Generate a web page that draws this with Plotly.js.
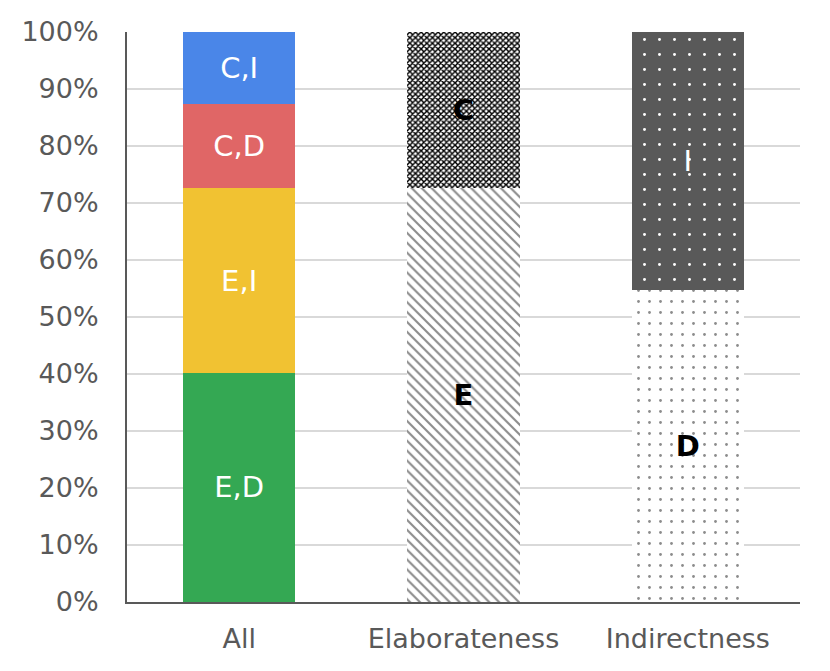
<!DOCTYPE html>
<html>
<head>
<meta charset="utf-8">
<script src="https://cdn.plot.ly/plotly-3.0.1.min.js"></script>
<style>
  html, body { margin: 0; padding: 0; background: #fff; }
  #chart { width: 830px; height: 671px; }
</style>
</head>
<body>
<div id="chart"></div>
<script>
// ── data (percent of each bar) ──
const CATEGORIES = ['All', 'Elaborateness', 'Indirectness'];
const Y_TICKS    = [0, 10, 20, 30, 40, 50, 60, 70, 80, 90, 100];

// "All" bar, bottom → top
const ALL_ED = [40.2, null, null];
const ALL_EI = [32.4, null, null];
const ALL_CD = [14.8, null, null];
const ALL_CI = [12.6, null, null];

// "Elaborateness" bar
const ELAB_E = [null, 72.6, null];
const ELAB_C = [null, 27.4, null];

// "Indirectness" bar
const INDIR_D = [null, null, 54.7];
const INDIR_I = [null, null, 45.3];

const FONT = '"DejaVu Sans", sans-serif';

function bar(name, values, style) {
  return {
    type: 'bar',
    name,
    x: CATEGORIES,
    y: values,
    width: 0.5,
    text: values.map(v => (v == null ? '' : name)),
    textposition: 'inside',
    insidetextanchor: 'middle',
    textangle: 0,
    insidetextfont: { family: FONT, size: 29, color: style.textColor, weight: style.weight || 'normal' },
    marker: {
      color: style.color,
      line: { width: 0 },
      pattern: style.pattern || { shape: '' },
    },
    hoverinfo: 'skip',
  };
}

const traces = [
  bar('E,D', ALL_ED, { color: '#34a853', textColor: '#ffffff' }),
  bar('E,I', ALL_EI, { color: '#f1c232', textColor: '#ffffff' }),
  bar('C,D', ALL_CD, { color: '#e06666', textColor: '#ffffff' }),
  bar('C,I', ALL_CI, { color: '#4a86e8', textColor: '#ffffff' }),

  // diagonal hatch → E
  bar('E', ELAB_E, {
    color: '#ffffff', textColor: '#000000', weight: 'bold',
    pattern: { shape: '\\', bgcolor: '#ffffff', fgcolor: '#8c8c8c', size: 7, solidity: 0.3, fillmode: 'replace' },
  }),
  // fine checker → C
  bar('C', ELAB_C, {
    color: '#ffffff', textColor: '#000000', weight: 'bold',
    pattern: { shape: 'x', bgcolor: '#ffffff', fgcolor: '#000000', size: 4, solidity: 0.6, fillmode: 'replace' },
  }),

  // light dots → D
  bar('D', INDIR_D, {
    color: '#ffffff', textColor: '#000000', weight: 'bold',
    pattern: { shape: '.', bgcolor: '#ffffff', fgcolor: '#8c8c8c', size: 11, solidity: 0.05, fillmode: 'replace' },
  }),
  // dark with white dots → I
  bar('I', INDIR_I, {
    color: '#595959', textColor: '#ffffff',
    pattern: { shape: '.', bgcolor: '#595959', fgcolor: '#ffffff', size: 15, solidity: 0.03, fillmode: 'replace' },
  }),
];

const layout = {
  width: 830,
  height: 671,
  margin: { l: 127, r: 30, t: 32, b: 69 },
  paper_bgcolor: '#ffffff',
  plot_bgcolor: '#ffffff',
  barmode: 'stack',
  showlegend: false,
  font: { family: FONT, color: '#595959' },
  xaxis: {
    type: 'category',
    range: [-0.5, 2.5],
    showgrid: false,
    showline: true,
    linecolor: '#595959',
    linewidth: 2,
    ticks: '',
    ticklabelstandoff: 12,
    tickfont: { family: FONT, size: 27, color: '#595959' },
  },
  yaxis: {
    range: [0, 100],
    tickmode: 'array',
    tickvals: Y_TICKS,
    ticktext: Y_TICKS.map(v => v + '%'),
    showgrid: true,
    gridcolor: '#d9d9d9',
    gridwidth: 2,
    zeroline: false,
    showline: true,
    linecolor: '#595959',
    linewidth: 2,
    ticks: '',
    ticklabelstandoff: 21,
    tickfont: { family: FONT, size: 27, color: '#595959' },
  },
};

Plotly.newPlot('chart', traces, layout, { displayModeBar: false, staticPlot: true });
</script>
</body>
</html>
